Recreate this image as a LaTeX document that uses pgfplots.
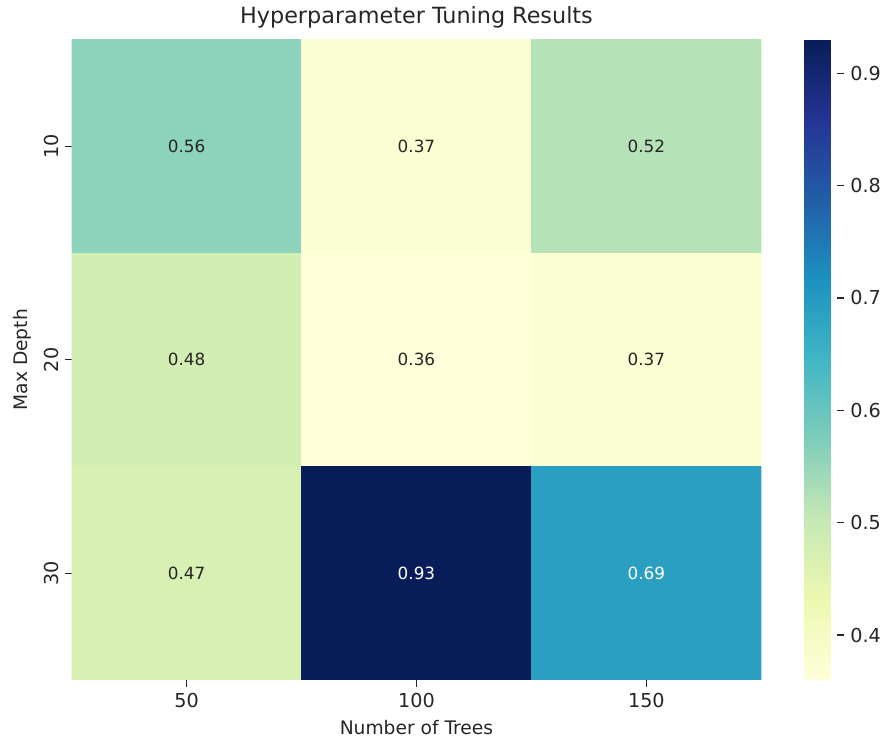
\documentclass[border=0pt]{standalone}
\usepackage{pgfplots}
\pgfplotsset{compat=1.18}
\usepackage{fontspec}
\setmainfont{DejaVu Sans}
\definecolor{txtdark}{HTML}{262626}
\begin{document}
\begin{tikzpicture}
\begin{axis}[
  name=main,
  scale only axis,
  width=377pt, height=350pt,
  xmin=-0.5, xmax=2.5, ymin=-0.5, ymax=2.5,
  y dir=reverse,
  enlargelimits=false,
  axis line style={draw=none},
  xtick={0,1,2}, xticklabels={50,100,150},
  ytick={0,1,2}, yticklabels={10,20,30},
  yticklabel style={rotate=90, anchor=south},
  xtick pos=bottom, ytick pos=left,
  tick align=outside,
  major tick length=3.6pt,
  tick style={txtdark, line width=0.6pt},
  ticklabel style={font=\fontsize{10.5}{12}\selectfont, text=txtdark},
  /pgf/number format/assume math mode=true,
  xlabel={Number of Trees}, ylabel={Max Depth},
  label style={font=\fontsize{10.2}{12}\selectfont, text=txtdark},
  title={Hyperparameter Tuning Results},
  title style={font=\fontsize{12.2}{14}\selectfont, yshift=-3pt, text=txtdark},
  colormap={ylgnbu}{rgb255=(255,255,217) rgb255=(237,248,177) rgb255=(199,233,180) rgb255=(127,205,187) rgb255=(65,182,196) rgb255=(29,145,192) rgb255=(34,94,168) rgb255=(37,52,148) rgb255=(8,29,88)},
  point meta min=0.36, point meta max=0.93,
  colorbar,
  colorbar style={
    at={(parent axis.north east)}, anchor=north west, xshift=15pt,
    width=18pt,
    ytick={0.4,0.5,0.6,0.7,0.8,0.9},
    yticklabel style={/pgf/number format/fixed, /pgf/number format/precision=1, /pgf/number format/fixed zerofill, font=\fontsize{10.5}{12}\selectfont, text=txtdark},
    /pgf/number format/assume math mode=true,
    axis line style={draw=none},
    tick align=outside,
    major tick length=3.6pt,
    tick style={txtdark, line width=0.6pt},
    ytick pos=right,
  },
]
\addplot[matrix plot*, mesh/cols=3, point meta=explicit] table[meta=z] {
x y z
0 0 0.56
1 0 0.37
2 0 0.52
0 1 0.48
1 1 0.36
2 1 0.37
0 2 0.47
1 2 0.93
2 2 0.69
};
\addplot[draw=none, mark=none, nodes near coords, point meta=explicit symbolic,
  nodes near coords style={anchor=center, text=txtdark, font=\fontsize{9.2}{11}\selectfont}]
  table[meta=t] {
x y t
0 0 0.56
1 0 0.37
2 0 0.52
0 1 0.48
1 1 0.36
2 1 0.37
0 2 0.47
};
\addplot[draw=none, mark=none, nodes near coords, point meta=explicit symbolic,
  nodes near coords style={anchor=center, text=white, font=\fontsize{9.2}{11}\selectfont}]
  table[meta=t] {
x y t
1 2 0.93
2 2 0.69
};
\end{axis}
\path ([xshift=-4pt]current bounding box.west);
\end{tikzpicture}
\end{document}
